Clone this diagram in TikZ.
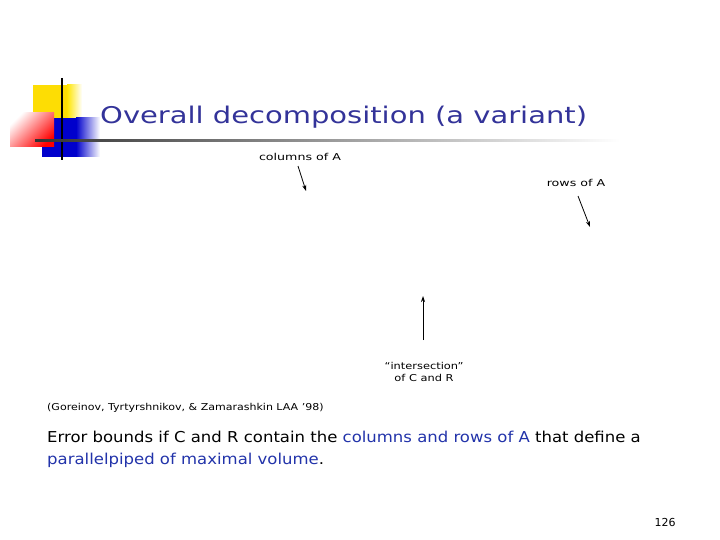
\documentclass[tikz,border=0pt]{standalone}
\usepackage{fontspec}
\setmainfont{DejaVu Sans}
\usetikzlibrary{arrows.meta}
\definecolor{tblue}{HTML}{333399}
\definecolor{kblue}{HTML}{2233AA}
\tikzset{small/.style={font=\fontsize{9.5}{12}\selectfont,inner sep=0pt},
 arr/.style={-{Stealth[length=6pt,width=4pt]},thick},
 body/.style={font=\fontsize{15}{17}\selectfont,anchor=west,inner sep=0pt}}
\begin{document}
\begin{tikzpicture}[x=1pt,y=-1pt]
\useasboundingbox (0,0) rectangle (720,540);
\fill[white] (0,0) rectangle (720,540);
% logo
\fill[yellow!80!orange] (33,85) rectangle (67,120);
\shade[left color=yellow!80!orange,right color=white] (67,85) rectangle (82,120);
\fill[blue!80!black] (42,118) rectangle (76,157);
\shade[left color=blue!80!black,right color=white] (76,118) rectangle (100,157);
\shade[left color=white,right color=red,shading angle=45] (10,113) rectangle (54,147);
\draw[line width=1.5pt] (62,78) -- (62,160);
\shade[left color=black!80,right color=white] (35,140) rectangle (620,142);
\node[font=\fontsize{23}{26}\selectfont,text=tblue,anchor=west,inner sep=0pt] (t) at (100,117) {\scalebox{1.26}[1]{Overall decomposition (a variant)}};
\node[small] (c) at (300,157) {\scalebox{1.33}[1]{columns of A}};
\coordinate (c2) at (306,191);
\draw[arr] (298,166) -- (c2);
\node[small] (r) at (576,183) {\scalebox{1.33}[1]{rows of A}};
\coordinate (r2) at (590,227);
\draw[arr] (578,196) -- (r2);
\node[small,align=center] (i) at (424,372) {\scalebox{1.2}[1]{“intersection”}\\\scalebox{1.2}[1]{of C and R}};
\coordinate (i2) at (423,296);
\draw[arr] (423,340) -- (i2);
\node[small,anchor=west] (g) at (47,408) {\scalebox{1.16}[1]{(Goreinov, Tyrtyrshnikov, \& Zamarashkin LAA '98)}};
\node[body] (b1) at (47,437) {\scalebox{1.1}[1]{Error bounds if C and R contain the \textcolor{kblue}{columns and rows of A} that define a}};
\node[body] (b2) at (47,460) {\scalebox{1.1}[1]{\textcolor{kblue}{parallelpiped of maximal volume}.}};
\node[font=\fontsize{11}{12}\selectfont,inner sep=0pt] (n) at (665,522) {126};
\end{tikzpicture}
\end{document}
